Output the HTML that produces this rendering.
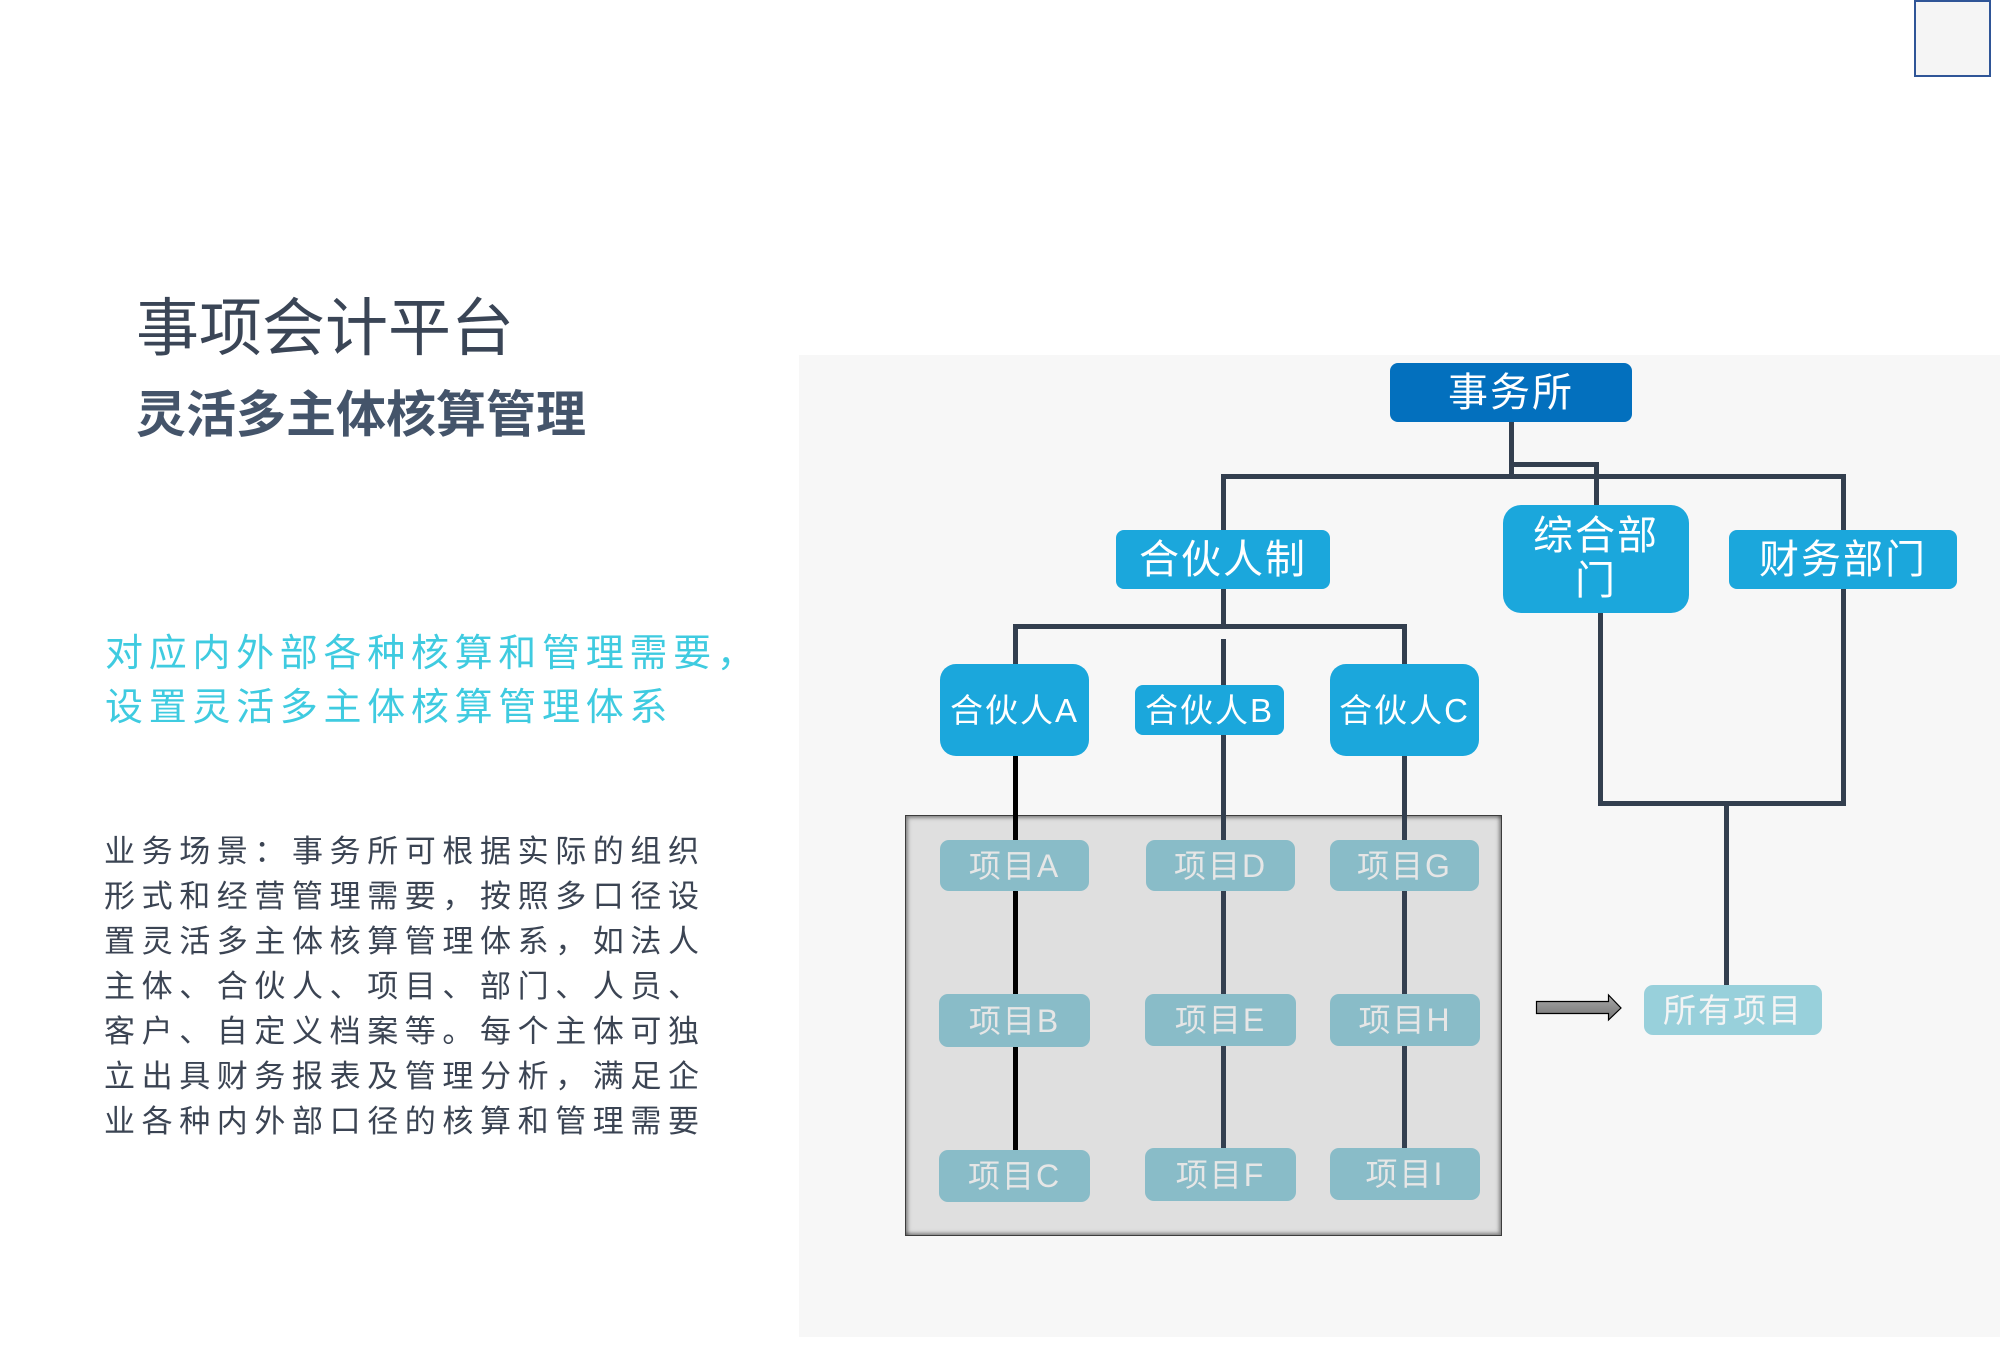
<!DOCTYPE html>
<html>
<head>
<meta charset="utf-8">
<style>
  html, body { margin: 0; padding: 0; }
  body {
    width: 2000px; height: 1353px; position: relative; overflow: hidden;
    background: #ffffff;
    font-family: "Liberation Sans", "Noto Sans CJK SC", sans-serif;
  }
  .abs { position: absolute; }
  .t { position: absolute; white-space: nowrap; }
  .box {
    position: absolute; display: flex; align-items: center; justify-content: center;
    color: #ffffff; box-sizing: border-box; white-space: nowrap; text-align: center;
  }
  .ln { position: absolute; background: #333f4f; }
  .blk { position: absolute; background: #000000; }
  .proj {
    position: absolute; display: flex; align-items: center; justify-content: center;
    background: #89bcc8; color: #e6e6e6; border-radius: 9px;
    font-size: 32px; letter-spacing: 2px; line-height: 1;
  }
</style>
</head>
<body>

<!-- top-right small box -->
<div class="abs" style="left:1914px; top:0px; width:73px; height:73px; border:2px solid #2f5597; background:#f5f5f5;"></div>

<!-- left texts -->
<div class="t" style="left:136px; top:298px; font-size:63px; line-height:63px; color:#3a4556;">事项会计平台</div>
<div class="t" style="left:136px; top:390px; font-size:50px; line-height:50px; font-weight:bold; color:#44546a;">灵活多主体核算管理</div>

<div class="t" style="left:105px; top:627px; font-size:38px; line-height:54px; letter-spacing:5.7px; color:#3fcbe0;">对应内外部各种核算和管理需要，<br>设置灵活多主体核算管理体系</div>

<div class="t" style="left:104px; top:829px; font-size:31px; line-height:45.07px; letter-spacing:6.6px; color:#3b4453;">业务场景：事务所可根据实际的组织<br>形式和经营管理需要，按照多口径设<br>置灵活多主体核算管理体系，如法人<br>主体、合伙人、项目、部门、人员、<br>客户、自定义档案等。每个主体可独<br>立出具财务报表及管理分析，满足企<br>业各种内外部口径的核算和管理需要</div>

<!-- diagram panel -->
<div class="abs" style="left:799px; top:355px; width:1201px; height:982px; background:#f7f7f7;"></div>

<!-- gray container -->
<div class="abs" style="left:905px; top:815px; width:597px; height:421px; box-sizing:border-box; background:#dfdfdf; border:1px solid #3c3c3c; box-shadow: inset 2px 2px 3px rgba(0,0,0,0.35), inset -2px -2px 3px rgba(0,0,0,0.35), inset 0 0 8px rgba(0,0,0,0.12);"></div>

<!-- connector lines -->
<div class="ln" style="left:1509px; top:422px; width:5px; height:57px;"></div>
<div class="ln" style="left:1509px; top:462px; width:90px; height:5px;"></div>
<div class="ln" style="left:1594px; top:462px; width:5px; height:45px;"></div>
<div class="ln" style="left:1221px; top:474px; width:625px; height:5px;"></div>
<div class="ln" style="left:1221px; top:474px; width:5px; height:57px;"></div>
<div class="ln" style="left:1841px; top:474px; width:5px; height:57px;"></div>
<div class="ln" style="left:1841px; top:588px; width:5px; height:218px;"></div>

<div class="ln" style="left:1221px; top:588px; width:5px; height:41px;"></div>
<div class="ln" style="left:1013px; top:624px; width:394px; height:5px;"></div>
<div class="ln" style="left:1013px; top:624px; width:5px; height:41px;"></div>
<div class="ln" style="left:1221px; top:639px; width:5px; height:47px;"></div>
<div class="ln" style="left:1402px; top:624px; width:5px; height:41px;"></div>

<div class="blk" style="left:1013px; top:755px; width:5px; height:396px;"></div>
<div class="ln" style="left:1221px; top:734px; width:5px; height:415px;"></div>
<div class="ln" style="left:1402px; top:755px; width:5px; height:394px;"></div>

<div class="ln" style="left:1598px; top:612px; width:5px; height:194px;"></div>
<div class="ln" style="left:1598px; top:801px; width:248px; height:5px;"></div>
<div class="ln" style="left:1724px; top:801px; width:5px; height:185px;"></div>

<!-- top level boxes -->
<div class="box" style="left:1390px; top:363px; width:242px; height:59px; background:#0370be; border-radius:8px; font-size:40px; letter-spacing:2px; line-height:1;">事务所</div>
<div class="box" style="left:1116px; top:530px; width:214px; height:59px; background:#1ba7dc; border-radius:8px; font-size:40px; letter-spacing:2px; line-height:1;">合伙人制</div>
<div class="box" style="left:1503px; top:505px; width:186px; height:108px; background:#1ba7dc; border-radius:18px; font-size:40px; letter-spacing:2px; line-height:45px;">综合部<br>门</div>
<div class="box" style="left:1729px; top:530px; width:228px; height:59px; background:#1ba7dc; border-radius:8px; font-size:40px; letter-spacing:2px; line-height:1;">财务部门</div>

<div class="box" style="left:940px; top:664px; width:149px; height:92px; background:#1ba7dc; border-radius:16px; font-size:33px; letter-spacing:2px; line-height:1;">合伙人A</div>
<div class="box" style="left:1135px; top:685px; width:149px; height:50px; background:#1ba7dc; border-radius:8px; font-size:33px; letter-spacing:2px; line-height:1;">合伙人B</div>
<div class="box" style="left:1330px; top:664px; width:149px; height:92px; background:#1ba7dc; border-radius:16px; font-size:33px; letter-spacing:2px; line-height:1;">合伙人C</div>

<!-- project boxes -->
<div class="proj" style="left:940px; top:840px; width:149px; height:51px;">项目A</div>
<div class="proj" style="left:1146px; top:840px; width:149px; height:51px;">项目D</div>
<div class="proj" style="left:1330px; top:840px; width:149px; height:51px;">项目G</div>

<div class="proj" style="left:939px; top:994px; width:151px; height:53px;">项目B</div>
<div class="proj" style="left:1145px; top:994px; width:151px; height:52px;">项目E</div>
<div class="proj" style="left:1330px; top:994px; width:150px; height:52px;">项目H</div>

<div class="proj" style="left:939px; top:1150px; width:151px; height:52px;">项目C</div>
<div class="proj" style="left:1145px; top:1148px; width:151px; height:53px;">项目F</div>
<div class="proj" style="left:1330px; top:1148px; width:150px; height:52px;">项目I</div>

<!-- all projects -->
<div class="proj" style="left:1644px; top:985px; width:178px; height:50px; background:#98d0db; color:#f4f4f4; font-size:33px; letter-spacing:2px;">所有项目</div>

<!-- arrow -->
<svg class="abs" style="left:0; top:0;" width="2000" height="1353" viewBox="0 0 2000 1353">
  <defs>
    <linearGradient id="ag" x1="0" y1="0" x2="0" y2="1">
      <stop offset="0" stop-color="#a8a8a8"/>
      <stop offset="1" stop-color="#757575"/>
    </linearGradient>
  </defs>
  <polygon points="1536.5,1001.5 1608.5,1001.5 1608.5,995 1621,1008 1608.5,1020 1608.5,1013.5 1536.5,1013.5" fill="url(#ag)" stroke="#000" stroke-width="1.2"/>
</svg>

</body>
</html>
